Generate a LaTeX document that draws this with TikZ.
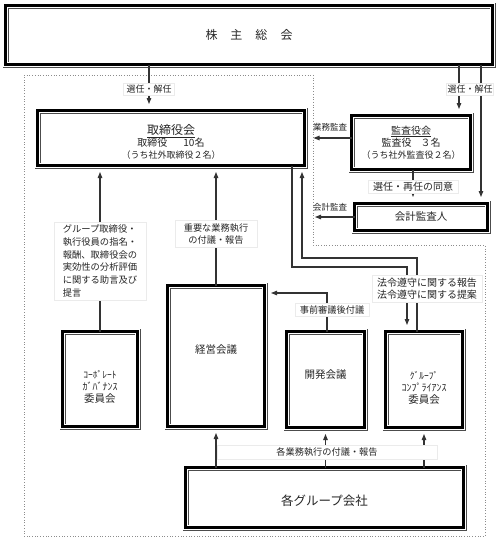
\documentclass[tikz,border=0pt]{standalone}
\usepackage{fontspec}
\setmainfont{Noto Sans CJK JP}
\usetikzlibrary{arrows.meta}
\newcommand\fsz[2]{\fontsize{#1}{#2}\selectfont}
\begin{document}
\begin{tikzpicture}[x=1pt,y=-1pt,
  box/.style={draw=black, line width=2.4pt, outer sep=0pt, inner sep=0pt,
    preaction={draw=black!70, line width=0.8pt, double=white, double distance=4.4pt}},
  boxtxt/.style={align=center, inner sep=0pt, text=black!85},
  conn/.style={draw=black!80, line width=1.1pt},
  arr/.style={conn, -{Triangle[length=6pt,width=4.5pt]}, shorten >=6.5pt},
  lbl/.style={fill=white, draw=black!8, line width=0.5pt, inner xsep=5pt, inner ysep=2pt,
    align=center, text=black!85, font=\fsz{9.2}{12}},
  plain/.style={inner sep=1pt, text=black!85, font=\fsz{8.5}{10}},
]
\useasboundingbox (0,0) rectangle (498,542);
% grouping frame
\draw[dotted, black!45, line width=0.7pt] (24,75) -- (313,75) -- (313,245) -- (485,245) -- (485,536) -- (24,536) -- cycle;

% boxes
\node[box, minimum width=487pt, minimum height=59pt,
  label={[boxtxt]center:{\fsz{12}{14}株\hspace{13pt}主\hspace{13pt}総\hspace{13pt}会}}] (kabu) at (249,35) {};
\node[box, minimum width=267pt, minimum height=55pt,
  label={[boxtxt, yshift=-4pt]center:{\fsz{12}{13}\underline{取締役会}\\\fsz{10}{13}取締役\hspace{16pt}10名\\\fsz{9}{13}（うち社外取締役２名）}}] (board) at (171,138) {};
\node[box, minimum width=119pt, minimum height=54pt,
  label={[boxtxt]center:{\fsz{10}{12}\underline{監査役会}\\\fsz{10}{12}監査役\hspace{9pt}３名\\\fsz{9}{12}（うち社外監査役２名）}}] (audit) at (411,142.5) {};
\node[box, minimum width=133pt, minimum height=27pt,
  label={[boxtxt]center:{\fsz{10.5}{12}会計監査人}}] (acct) at (421,217) {};
\node[box, minimum width=75pt, minimum height=95pt,
  label={[boxtxt, yshift=-8pt]center:{\fsz{9.5}{14.5}ｺｰﾎﾟﾚｰﾄ\\ｶﾞﾊﾞﾅﾝｽ\\\fsz{10.5}{14.5}委員会}}] (corp) at (100,379) {};
\node[box, minimum width=97pt, minimum height=141pt,
  label={[boxtxt, yshift=6pt]center:{\fsz{10.5}{12}経営会議}}] (keiei) at (216,356) {};
\node[box, minimum width=78pt, minimum height=96pt,
  label={[boxtxt, yshift=5pt]center:{\fsz{10.5}{12}開発会議}}] (kaihatsu) at (325.5,379.5) {};
\node[box, minimum width=77pt, minimum height=96pt,
  label={[boxtxt, yshift=-8pt]center:{\fsz{9.5}{14.5}ｸﾞﾙｰﾌﾟ\\ｺﾝﾌﾟﾗｲｱﾝｽ\\\fsz{10.5}{14.5}委員会}}] (comp) at (424,379.5) {};
\node[box, minimum width=278pt, minimum height=60pt,
  label={[boxtxt, yshift=-3pt]center:{\fsz{12.5}{14}各グループ会社}}] (gr) at (324.5,497.5) {};

% helper coordinates
\coordinate (kaikeiend) at (315,0);
\coordinate (pa) at (292,267);
\coordinate (pb) at (407,267);
\coordinate (qa) at (417,258);
\coordinate (qb) at (302,258);

% connectors
\draw[arr] ([xshift=-100pt]kabu.south) -- ([xshift=-22pt]board.north);
\draw[arr] ([xshift=210pt]kabu.south) -- ([xshift=48pt]audit.north);
\draw[arr] ([xshift=232pt]kabu.south) -- ([xshift=60pt]acct.north);
\draw[arr, shorten >=9pt] (audit.west |- board.east) -- (board.east);
\draw[arr, shorten >=0pt] (acct.west) -- (acct.west -| kaikeiend);
\draw[arr] ([xshift=2pt]audit.south) -- ([xshift=-8pt]acct.north);
\draw[arr] (corp.north) -- ([xshift=-71pt]board.south);
\draw[arr] (keiei.north) -- ([xshift=45pt]board.south);
\draw[arr] ([xshift=1.5pt]kaihatsu.north) |- ([yshift=63pt]keiei.east);
\draw[arr] (board.south -| pa) -- (pa) -- (pb) -- (pb |- comp.north);
\draw[arr] (qa |- comp.north) -- (qa) -- (qb) -- (qb |- board.south);
\draw[arr] (gr.north -| keiei.south) -- (keiei.south);
\draw[arr] (gr.north -| kaihatsu.south) -- (kaihatsu.south);
\draw[arr] (gr.north -| comp.south) -- (comp.south);

% labels
\node[lbl, inner xsep=3pt, font=\fsz{9}{11}] (l1) at (149,89) {選任・解任};
\node[lbl, inner xsep=1pt, font=\fsz{9}{11}] (l2) at (470,89) {選任・解任};
\node[plain] (l3) at (330,127) {業務監査};
\node[plain] (l4) at (330,207) {会計監査};
\node[lbl, font=\fsz{10}{12}] (l5) at (413,187) {選任・再任の同意};
\node[lbl, font=\fsz{10}{12}, inner xsep=5pt, inner ysep=3pt] (l6) at (427,289) {法令遵守に関する報告\\法令遵守に関する提案};
\node[lbl] (l7) at (332,310) {事前審議後付議};
\node[lbl, align=left, font=\fsz{9.3}{12.7}, inner xsep=9pt, inner ysep=3pt] (l8) at (100,261) {グループ取締役・\\執行役員の指名・\\報酬、取締役会の\\実効性の分析評価\\に関する助言及び\\提言};
\node[lbl, inner xsep=9pt, inner ysep=3pt] (l9) at (216,234) {重要な業務執行\\の付議・報告};
\node[lbl, minimum width=220pt, minimum height=14pt] (l10) at (327,452) {各業務執行の付議・報告};
\end{tikzpicture}
\end{document}
